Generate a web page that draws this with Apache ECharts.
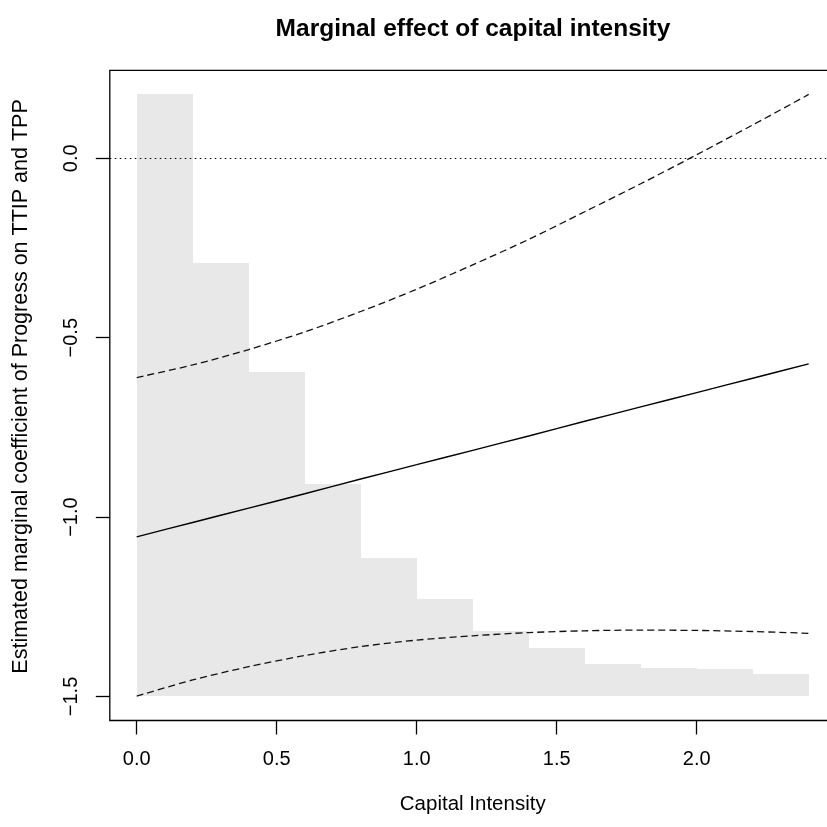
<!doctype html>
<html>
<head>
    <meta charset="utf-8">
    <title>Marginal effect of capital intensity</title>
    <script src="https://cdn.jsdelivr.net/npm/echarts@6/dist/echarts.min.js"></script>
    <style>
        html, body { margin: 0; padding: 0; background: #fff; }
        #main { width: 827px; height: 827px; }
    </style>
</head>
<body>
<div id="main"></div>
<script type="text/javascript">

    // histogram of capital intensity (drawn in y units, base at -1.5)
    var binStart = [0.0, 0.2, 0.4, 0.6, 0.8, 1.0, 1.2, 1.4, 1.6, 1.8, 2.0, 2.2];
    var binEnd   = [0.2, 0.4, 0.6, 0.8, 1.0, 1.2, 1.4, 1.6, 1.8, 2.0, 2.2, 2.4];
    var binTop   = [0.178, -0.292, -0.596, -0.908, -1.113, -1.228, -1.318, -1.365, -1.409, -1.421, -1.424, -1.436];
    var histBase = -1.5;

    // marginal effect and 95% band
    var xs       = [0, 0.2, 0.4, 0.6, 0.8, 1.0, 1.2, 1.4, 1.6, 1.8, 2.0, 2.2, 2.4];
    var estimate = [-1.055, -1.015, -0.975, -0.935, -0.894, -0.854, -0.814, -0.774, -0.733, -0.693, -0.653, -0.613, -0.573];
    var upper    = [-0.611, -0.576, -0.533, -0.484, -0.427, -0.365, -0.297, -0.226, -0.149, -0.071, 0.010, 0.093, 0.178];
    var lower    = [-1.499, -1.454, -1.417, -1.386, -1.361, -1.343, -1.331, -1.322, -1.317, -1.315, -1.316, -1.319, -1.324];

    var xTicks = [0, 0.5, 1.0, 1.5, 2.0];
    var yTicks = [-1.5, -1.0, -0.5, 0];

    var font = 'Liberation Sans, Arial, Helvetica, sans-serif';

    function pairs(a, b) {
        var out = [];
        for (var i = 0; i < a.length; i++) out.push([a[i], b[i]]);
        return out;
    }

    var histData = [];
    for (var i = 0; i < binStart.length; i++) {
        histData.push([binStart[i], binEnd[i], binTop[i]]);
    }

    var myChart = echarts.init(document.getElementById('main'), null, {renderer: 'canvas'});

    var option = {
        backgroundColor: '#ffffff',
        animation: false,
        title: {
            text: 'Marginal effect of capital intensity',
            left: 468,
            top: 12,
            textAlign: 'center',
            textStyle: {
                fontFamily: font,
                fontSize: 24.5,
                fontWeight: 'bold',
                color: '#000'
            }
        },
        grid: {
            left: 109.8,
            top: 70.4,
            width: 725.8,
            height: 650.1,
            containLabel: false,
            outerBoundsMode: 'none',
            show: true,
            borderColor: '#000',
            borderWidth: 1.3,
            backgroundColor: 'transparent'
        },
        xAxis: {
            type: 'value',
            min: -0.096,
            max: 2.496,
            name: 'Capital Intensity',
            nameLocation: 'middle',
            nameGap: 73,
            nameTextStyle: { fontFamily: font, fontSize: 20.5, color: '#000' },
            axisLine: { show: false, onZero: false },
            splitLine: { show: false },
            axisTick: {
                show: true,
                length: 14,
                customValues: xTicks,
                lineStyle: { color: '#000', width: 1.3 }
            },
            axisLabel: {
                customValues: xTicks,
                margin: 29,
                fontFamily: font,
                fontSize: 20,
                color: '#000',
                formatter: function (v) { return v.toFixed(1); }
            }
        },
        yAxis: {
            type: 'value',
            min: -1.567,
            max: 0.245,
            name: 'Estimated marginal coefficient of Progress on TTIP and TPP',
            nameLocation: 'middle',
            nameGap: 78,
            nameRotate: 90,
            nameTextStyle: { fontFamily: font, fontSize: 21.5, color: '#000', padding: [0, 0, 0, 18] },
            axisLine: { show: false, onZero: false },
            splitLine: { show: false },
            axisTick: {
                show: true,
                length: 14,
                customValues: yTicks,
                lineStyle: { color: '#000', width: 1.3 }
            },
            axisLabel: {
                customValues: yTicks,
                rotate: 90,
                margin: 28,
                fontFamily: font,
                fontSize: 20,
                color: '#000',
                formatter: function (v) {
                    var s = Math.abs(v).toFixed(1);
                    return v < 0 ? '\u2212' + s : s;
                }
            }
        },
        series: [
            {
                name: 'histogram',
                type: 'custom',
                z: 1,
                silent: true,
                renderItem: function (params, api) {
                    var p0 = api.coord([api.value(0), api.value(2)]);
                    var p1 = api.coord([api.value(1), histBase]);
                    var x0 = Math.round(p0[0]), x1 = Math.round(p1[0]);
                    var y0 = Math.round(p0[1]), y1 = Math.round(p1[1]);
                    return {
                        type: 'rect',
                        shape: { x: x0, y: y0, width: x1 - x0, height: y1 - y0 },
                        style: { fill: '#e8e8e8' }
                    };
                },
                encode: { x: [0, 1], y: 2 },
                data: histData
            },
            {
                name: 'estimate',
                type: 'line',
                z: 3,
                showSymbol: false,
                smooth: 0.3,
                lineStyle: { color: '#000', width: 1.4 },
                data: pairs(xs, estimate),
                markLine: {
                    silent: true,
                    symbol: 'none',
                    label: { show: false },
                    lineStyle: { color: '#000', width: 1.2, type: [1.5, 3.5] },
                    data: [{ yAxis: 0 }]
                }
            },
            {
                name: 'upper',
                type: 'line',
                z: 3,
                showSymbol: false,
                smooth: 0.3,
                lineStyle: { color: '#111', width: 1.3, type: [7, 4] },
                data: pairs(xs, upper)
            },
            {
                name: 'lower',
                type: 'line',
                z: 3,
                showSymbol: false,
                smooth: 0.3,
                lineStyle: { color: '#111', width: 1.3, type: [7, 4] },
                data: pairs(xs, lower)
            }
        ]
    };

    myChart.setOption(option);

</script>
</body>
</html>
